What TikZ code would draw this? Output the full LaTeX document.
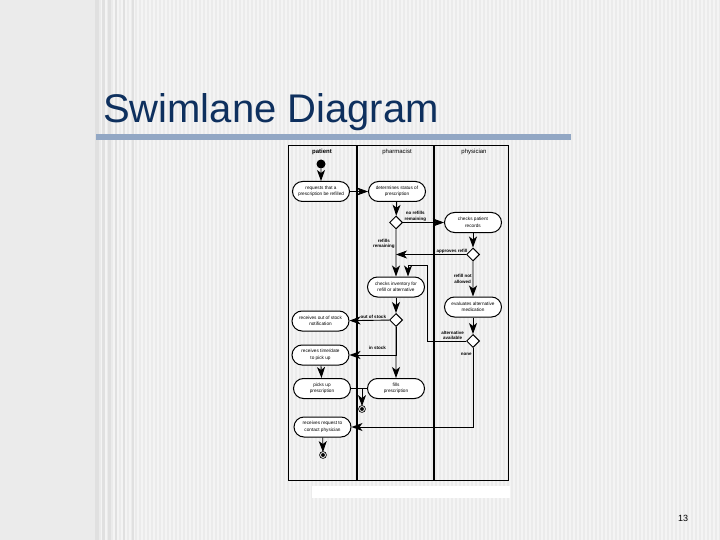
\documentclass[tikz,border=0pt]{standalone}
\usepackage{fontspec}
\setmainfont{Liberation Sans}
\usetikzlibrary{arrows.meta,shapes.geometric,shapes.misc}

\definecolor{slidegray}{RGB}{235,235,235}
\definecolor{titleblue}{RGB}{14,48,94}
\definecolor{barblue}{RGB}{146,167,196}

\tikzset{
  act/.style={rounded rectangle, draw, line width=1pt, fill=white,
    minimum width=57pt, minimum height=20pt, inner sep=0pt, align=center,
    font=\fontsize{4.7}{6.5}\selectfont},
  choice/.style={diamond, draw, line width=1pt, fill=white,
    minimum size=13pt, inner sep=0pt},
  lbl/.style={font=\bfseries\fontsize{4.5}{5.5}\selectfont, align=center, inner sep=1pt},
  lane/.style={font=\fontsize{6}{7}\selectfont},
  flow/.style={line width=0.9pt, -{Stealth[length=11pt,width=8pt,inset=3pt]}},
  begin/.style={circle, fill=black, minimum size=9pt, inner sep=0pt},
  finish/.style={circle, draw, fill=black, line width=0.8pt, double=white,
    double distance=0.8pt, minimum size=5pt, inner sep=0pt}
}

\begin{document}
\begin{tikzpicture}[x=1pt, y=-1pt]
  \useasboundingbox (0,0) rectangle (720,540);
  \fill[slidegray] (0,0) rectangle (720,540);
  \foreach \x in {97,101,...,717}
    \fill[white, opacity=0.45] (\x,0) rectangle ++(1.5,540);
  \foreach \x/\w in {95/4,102/3,108/3,115/2,123/2,132/1.5}
    \fill[black!12] (\x,0) rectangle ++(\w,540);

  \node (title) [anchor=base west, inner sep=0pt, text=titleblue,
    font=\fontsize{40}{40}\selectfont] at (103,123) {Swimlane Diagram};
  \fill[barblue] (96,134) rectangle (571,140);
  \node (page) [font=\fontsize{9}{9}\selectfont] at (683,518) {13};

  \fill[white] (312,486) rectangle (510,498);
  \draw[line width=1pt] (288,146) rectangle (508,480);
  \draw[line width=1.6pt] (357,146) -- (357,480) (434,146) -- (434,480);
  \node (patient) [lane] at (322,152) {\bfseries patient};
  \node (pharmacist) [lane] at (397,152) {pharmacist};
  \node (physician) [lane] at (474,152) {physician};

  \node (start) [begin] at (321,164) {};
  \node (req) [act] at (321,191.5) {requests that a\\prescription be refilled};
  \node (det) [act] at (397,191.5) {determines status of\\prescription};
  \node (d1) [choice] at (396,222.5) {};
  \node (chk) [act] at (473,222.5) {checks patient\\records};
  \node (d2) [choice] at (473,254.5) {};
  \node (inv) [act] at (396,287) {checks inventory for\\refill or alternative};
  \node (eval) [act] at (473,307) {evaluates alternative\\medication};
  \node (d3) [choice] at (396,320) {};
  \node (oos) [act] at (320.5,321) {receives out of stock\\notification};
  \node (d4) [choice] at (473,341) {};
  \node (rtd) [act] at (320.5,355) {receives time/date\\to pick up};
  \node (pick) [act] at (322,388.5) {picks up\\prescription};
  \node (fills) [act] at (396,388.5) {fills\\prescription};
  \coordinate (join) at (362,388.5);
  \node (end1) [finish] at (362,409) {};
  \node (req2) [act] at (322.5,427) {receives request to\\contact physician};
  \node (end2) [finish] at (323,455) {};
  \coordinate (loop) at (427,265);

  \draw[flow] (start) -- (req);
  \draw[flow] (req) -- (det);
  \draw[flow] (det) -- (d1);
  \draw[flow] (d1) -- (chk) node [lbl, pos=0.3, above] {no refills\\remaining};
  \draw[flow] (chk) -- (d2);
  \draw[flow] (d2) -- (d2 -| d1) node [lbl, pos=0.2, above] {approves refill};
  \draw[flow] (d1) -- (inv) node [lbl, pos=0.3, left] {refills\\remaining};
  \draw[flow] (d2) -- (eval) node [lbl, midway, left] {refill not\\allowed};
  \draw[flow] (eval) -- (d4);
  \draw[flow] (d4) -| node [lbl, pos=0.17, above] {alternative\\available} (loop)
    -| ([xshift=12pt]inv.north);
  \draw[flow] (d4) |- node [lbl, pos=0.04, left] {none} (req2);
  \draw[flow] (inv) -- (d3);
  \draw[flow] (d3) -- (oos) node [lbl, pos=0.4, above] {out of stock};
  \draw[flow] (d3) |- node [lbl, pos=0.7, above, yshift=4pt] {in stock} (rtd);
  \draw[flow] (d3) -- (fills);
  \draw[flow] (rtd) -- (pick);
  \draw[line width=0.9pt] (pick) -- (fills);
  \draw[flow] (join) -- (end1);
  \draw[flow] (req2) -- (end2);
\end{tikzpicture}
\end{document}
